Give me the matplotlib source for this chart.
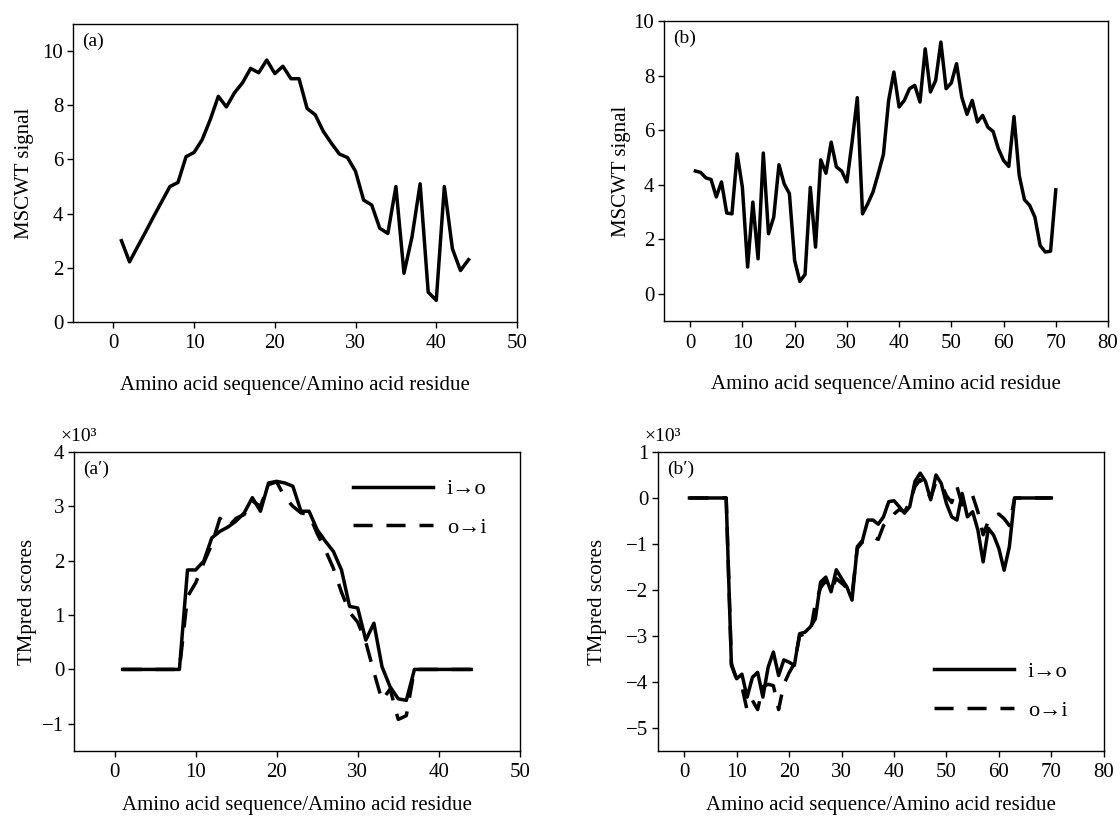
import numpy as np
import matplotlib
matplotlib.use("Agg")
from matplotlib import pyplot as plt

plt.rcParams['font.family'] = ['Liberation Serif', 'DejaVu Serif']
plt.rcParams['font.size'] = 15
plt.rcParams['axes.linewidth'] = 1.0

# MSCWT signal, panel (a) residues 1..44
a_x = np.arange(1, 45)
a_y = [3.0, 2.22, 2.78, 3.33, 3.9, 4.45, 5.0, 5.15, 6.1, 6.26,
       6.73, 7.47, 8.33, 7.94, 8.46, 8.83, 9.36, 9.2, 9.67, 9.17,
       9.44, 8.98, 8.98, 7.88, 7.65, 7.04, 6.6, 6.2, 6.07, 5.56,
       4.5, 4.32, 3.46, 3.27, 5.0, 1.8, 3.15, 5.1, 1.1, 0.8,
       5.0, 2.7, 1.9, 2.3]

# MSCWT signal, panel (b) residues 1..70
b_x = np.arange(1, 71)
b_y = [4.5, 4.45, 4.25, 4.19, 3.55, 4.1, 2.96, 2.93, 5.13, 3.9,
       0.98, 3.36, 1.28, 5.16, 2.2, 2.81, 4.73, 4.03, 3.67, 1.22,
       0.45, 0.71, 3.9, 1.71, 4.91, 4.42, 5.56, 4.65, 4.5, 4.1,
       5.56, 7.19, 2.93, 3.3, 3.73, 4.4, 5.11, 7.09, 8.13, 6.85,
       7.09, 7.52, 7.64, 7.03, 8.98, 7.4, 7.82, 9.23, 7.52, 7.73,
       8.44, 7.21, 6.58, 7.09, 6.3, 6.54, 6.11, 5.95, 5.32, 4.89,
       4.67, 6.5, 4.34, 3.45, 3.24, 2.81, 1.77, 1.53, 1.56, 3.81]

# TMpred scores (x10^3), panel (a')
ap_io = [0, 0, 0, 0, 0, 0, 0, 0, 1.83, 1.83,
         1.99, 2.42, 2.54, 2.62, 2.73, 2.88, 3.16, 2.91, 3.43, 3.46,
         3.43, 3.37, 2.91, 2.91, 2.57, 2.36, 2.17, 1.83, 1.16, 1.13,
         0.54, 0.85, 0.05, -0.32, -0.54, -0.57, 0, 0, 0, 0,
         0, 0, 0, 0]
ap_oi = [0, 0, 0, 0, 0, 0, 0, 0, 1.34, 1.59,
         1.96, 2.3, 2.78, 2.62, 2.78, 2.85, 3.1, 3.0, 3.4, 3.45,
         3.17, 3.0, 2.88, 2.85, 2.5, 2.2, 1.86, 1.42, 1.05, 0.87,
         0.5, -0.05, -0.57, -0.36, -0.92, -0.85, 0, 0, 0, 0,
         0, 0, 0, 0]

# TMpred scores (x10^3), panel (b')
bp_io = [0, 0, 0, 0, 0, 0, 0, 0, -3.64, -3.93,
         -3.83, -4.33, -3.9, -3.79, -4.33, -3.68, -3.35, -3.86, -3.52, -3.57,
         -3.64, -2.95, -2.92, -2.81, -2.63, -1.83, -1.72, -2.04, -1.56, -1.75,
         -1.93, -2.22, -1.06, -0.92, -0.48, -0.48, -0.57, -0.41, -0.08, -0.06,
         -0.19, -0.33, -0.19, 0.36, 0.54, 0.36, -0.04, 0.5, 0.32, -0.12,
         -0.41, -0.48, 0.1, -0.41, -0.3, -0.7, -1.39, -0.66, -0.81, -1.1,
         -1.57, -1.06, 0, 0, 0, 0, 0, 0, 0, 0]
bp_oi = [0, 0, 0, 0, 0, 0, 0, 0, -3.6, -3.95,
         -4.1, -4.62, -4.4, -4.6, -4.1, -4.05, -4.08, -4.6, -4.05, -3.8,
         -3.6, -3.0, -2.95, -2.95, -2.3, -1.95, -1.8, -2.0, -1.75, -1.85,
         -1.95, -2.1, -1.1, -0.95, -0.95, -0.85, -0.9, -0.6, -0.5, -0.35,
         -0.25, -0.3, -0.1, 0.25, 0.4, 0.2, 0.0, 0.35, 0.3, 0.05,
         -0.1, 0.25, -0.15, 0.0, 0.05, -0.3, -0.8, -0.5, -0.4, -0.35,
         -0.45, -0.6, 0, 0, 0, 0, 0, 0, 0, 0]

xlab = "Amino acid sequence/Amino acid residue"
lw = 2.5
dash = (0, (5.5, 4))


def style(ax, xpad):
    ax.tick_params(direction="out", length=4, width=1.0, top=False, right=False, labelsize=15, pad=3)
    ax.tick_params(axis="x", pad=5)
    ax.set_xlabel(xlab, fontsize=15, labelpad=xpad)


fig = plt.figure(figsize=(11.2, 8.16), dpi=100)

ax1 = fig.add_axes([0.0652, 0.6054, 0.3964, 0.3652])
ax1.plot(a_x, a_y, color="black", lw=lw)
ax1.set_xlim(-5, 50)
ax1.set_ylim(0, 11)
ax1.set_xticks([0, 10, 20, 30, 40, 50])
ax1.set_yticks([0, 2, 4, 6, 8, 10])
ax1.set_ylabel("MSCWT signal", fontsize=15, labelpad=6)
ax1.text(0.02, 0.97, "(a)", transform=ax1.transAxes, va="top", ha="left", fontsize=14)
style(ax1, 16)

ax2 = fig.add_axes([0.5929, 0.6066, 0.3964, 0.3676])
ax2.plot(b_x, b_y, color="black", lw=lw)
ax2.set_xlim(-5, 80)
ax2.set_ylim(-1, 10)
ax2.set_xticks(range(0, 81, 10))
ax2.set_yticks([0, 2, 4, 6, 8, 10])
ax2.set_ylabel("MSCWT signal", fontsize=15, labelpad=2)
ax2.text(0.02, 0.97, "(b)", transform=ax2.transAxes, va="top", ha="left", fontsize=14)
style(ax2, 16)

ax3 = fig.add_axes([0.0661, 0.0797, 0.398, 0.3664])
ax3.plot(a_x, ap_io, color="black", lw=lw, label="i→o")
ax3.plot(a_x, ap_oi, color="black", lw=lw, ls=dash, label="o→i")
ax3.set_xlim(-5, 50)
ax3.set_ylim(-1.5, 4)
ax3.set_xticks([0, 10, 20, 30, 40, 50])
ax3.set_yticks([-1, 0, 1, 2, 3, 4])
ax3.set_ylabel("TMpred scores", fontsize=15, labelpad=4)
ax3.text(0.02, 0.97, "(a′)", transform=ax3.transAxes, va="top", ha="left", fontsize=14)
ax3.text(-0.03, 1.025, "×10³", transform=ax3.transAxes, va="bottom", ha="left", fontsize=14)
ax3.legend(loc="upper right", bbox_to_anchor=(0.97, 0.977), frameon=False, handlelength=3.6,
           handletextpad=0.6, labelspacing=0.8, fontsize=16)
style(ax3, 10)

ax4 = fig.add_axes([0.5875, 0.0797, 0.398, 0.3664])
ax4.plot(b_x, bp_io, color="black", lw=lw, label="i→o")
ax4.plot(b_x, bp_oi, color="black", lw=lw, ls=dash, label="o→i")
ax4.set_xlim(-5, 80)
ax4.set_ylim(-5.5, 1)
ax4.set_xticks(range(0, 81, 10))
ax4.set_yticks([-5, -4, -3, -2, -1, 0, 1])
ax4.set_ylabel("TMpred scores", fontsize=15, labelpad=14)
ax4.text(0.02, 0.97, "(b′)", transform=ax4.transAxes, va="top", ha="left", fontsize=14)
ax4.text(-0.03, 1.025, "×10³", transform=ax4.transAxes, va="bottom", ha="left", fontsize=14)
ax4.legend(loc="lower right", bbox_to_anchor=(0.963, 0.035), frameon=False, handlelength=3.6,
           handletextpad=0.6, labelspacing=0.8, fontsize=16)
style(ax4, 10)

fig.savefig("out.png", dpi=100)
